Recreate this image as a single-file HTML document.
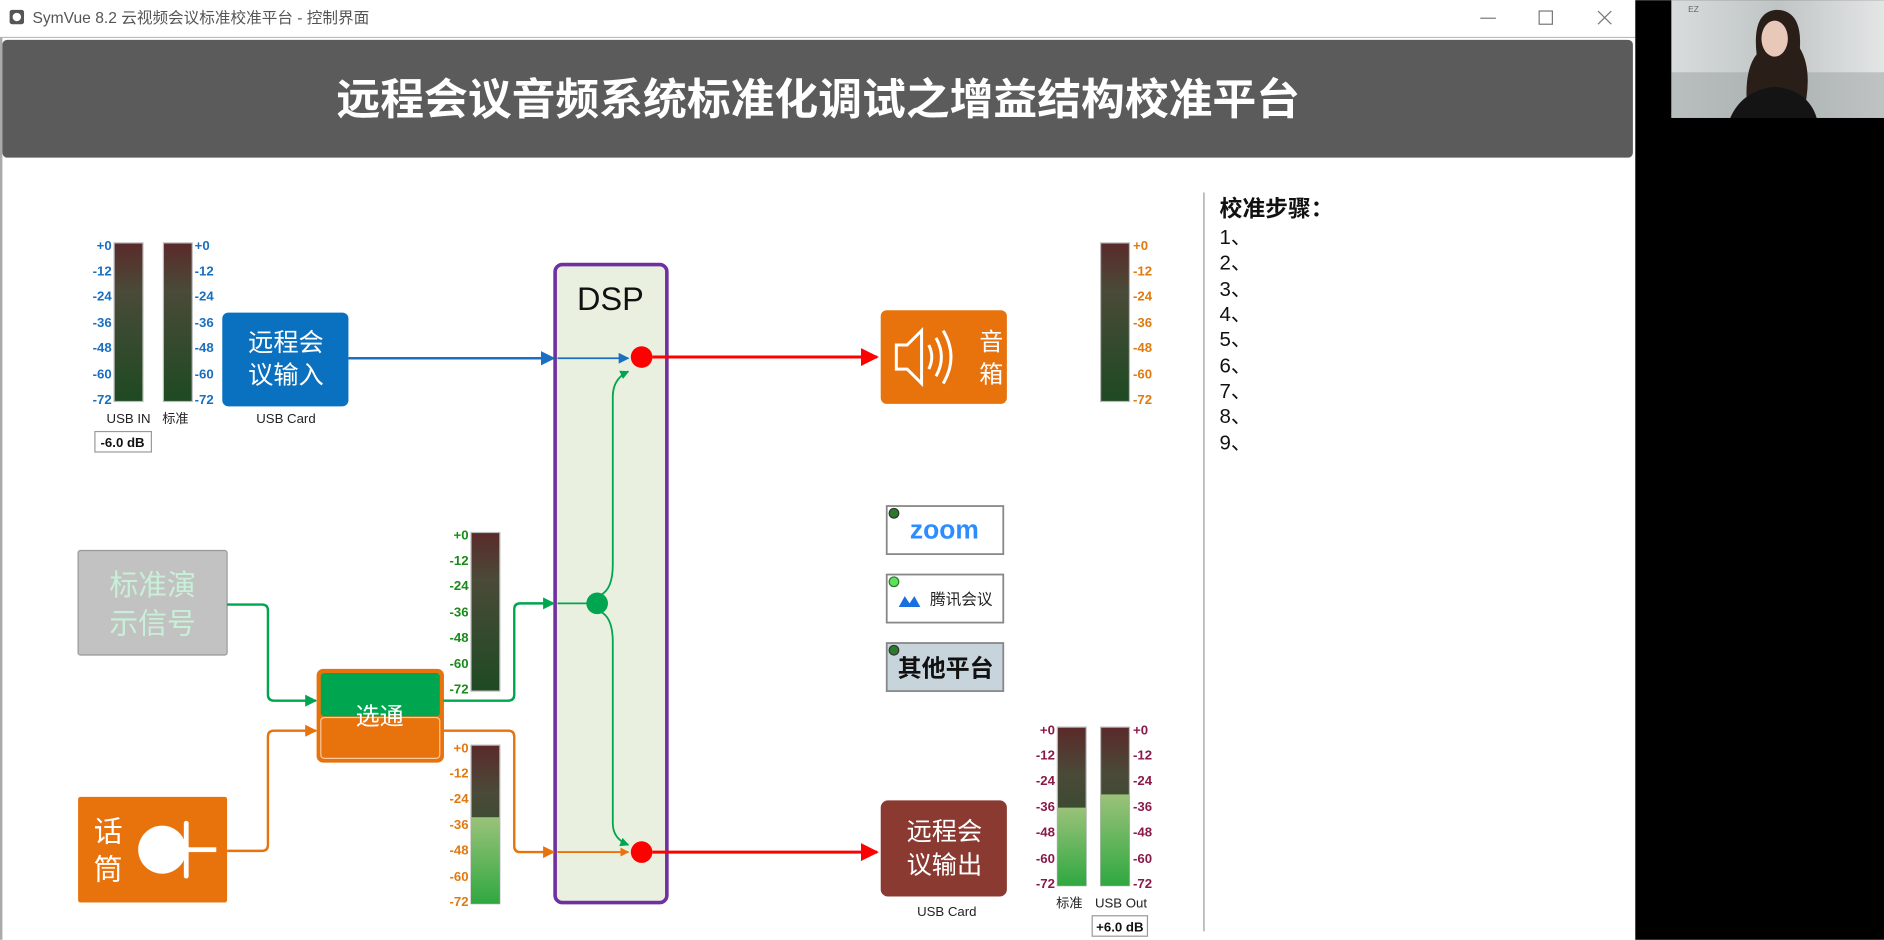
<!DOCTYPE html>
<html><head><meta charset="utf-8">
<style>
html,body{margin:0;padding:0;background:#fff;width:1884px;height:940px;overflow:hidden}
svg{display:block}
text{font-family:"Liberation Sans","Noto Sans CJK SC",sans-serif}
.ml{font-size:11px;font-weight:bold;font-family:"Liberation Sans",sans-serif}
</style></head><body>
<svg width="1884" height="940" viewBox="0 0 1568 782" xmlns="http://www.w3.org/2000/svg">
<defs>
<linearGradient id="mg" x1="0" y1="0" x2="0" y2="1">
<stop offset="0" stop-color="#5a2a2a"/><stop offset="0.3" stop-color="#4a4a38"/><stop offset="1" stop-color="#1e4a22"/></linearGradient>
<linearGradient id="lg" x1="0" y1="0" x2="0" y2="1">
<stop offset="0" stop-color="#9bc27a"/><stop offset="1" stop-color="#2fa840"/></linearGradient>
<linearGradient id="cam" x1="0" y1="0" x2="1" y2="0">
<stop offset="0" stop-color="#d8dcdc"/><stop offset="0.5" stop-color="#bfc4c4"/><stop offset="1" stop-color="#e4e6e6"/></linearGradient>
<marker id="ab" viewBox="0 0 10 10" refX="9" refY="5" markerWidth="6" markerHeight="6" orient="auto"><path d="M0,0L10,5L0,10z" fill="#1a6fc0"/></marker>
<marker id="ar" viewBox="0 0 10 10" refX="9" refY="5" markerWidth="6" markerHeight="6" orient="auto"><path d="M0,0L10,5L0,10z" fill="#f00"/></marker>
<marker id="ag" viewBox="0 0 10 10" refX="9" refY="5" markerWidth="5" markerHeight="5" orient="auto"><path d="M0,0L10,5L0,10z" fill="#00a550"/></marker>
<marker id="ao" viewBox="0 0 10 10" refX="9" refY="5" markerWidth="5" markerHeight="5" orient="auto"><path d="M0,0L10,5L0,10z" fill="#e8720c"/></marker>
</defs>
<rect width="1568" height="782" fill="#fff"/>
<rect x="8" y="8" width="12" height="12" rx="2" fill="#555"/><circle cx="14" cy="14" r="3.5" fill="#fff"/>
<text x="27" y="19" font-size="13" fill="#555">SymVue 8.2 云视频会议标准校准平台 - 控制界面</text>
<line x1="1232" y1="15" x2="1245" y2="15" stroke="#777" stroke-width="1"/>
<rect x="1281" y="9" width="11" height="11" fill="none" stroke="#777"/>
<path d="M1330 9L1341 20M1341 9L1330 20" stroke="#777"/>
<line x1="0" y1="31" x2="1361" y2="31" stroke="#bbb"/>
<rect x="0" y="31" width="2" height="751" fill="#aaa"/>
<rect x="2" y="33" width="1357" height="98" rx="4" fill="#5b5b5b"/>
<text x="681" y="95" font-size="36" font-weight="bold" fill="#fff" text-anchor="middle" textLength="802" lengthAdjust="spacingAndGlyphs">远程会议音频系统标准化调试之增益结构校准平台</text>
<rect x="1361" y="0" width="207" height="782" fill="#000"/>
<rect x="1391" y="0" width="177" height="98" fill="url(#cam)"/>
<rect x="1391" y="60" width="177" height="38" fill="#9aa0a0" opacity="0.5"/>
<path d="M1455 98 Q1450 60 1462 45 Q1458 10 1478 8 Q1500 8 1498 40 Q1510 60 1500 98 Z" fill="#2a1e18"/>
<ellipse cx="1477" cy="32" rx="11" ry="15" fill="#e8c8b8"/>
<path d="M1440 98 Q1450 75 1477 72 Q1505 75 1512 98Z" fill="#141414"/>
<text x="1405" y="10" font-size="7" fill="#666">EZ</text>

<rect x="95" y="202" width="24" height="132" fill="url(#mg)" stroke="#bbb"/>
<rect x="136" y="202" width="24" height="132" fill="url(#mg)" stroke="#bbb"/>
<g class="ml" fill="#1a6fc0" text-anchor="end">
<text x="93" y="208">+0</text><text x="93" y="229">-12</text><text x="93" y="250">-24</text><text x="93" y="272">-36</text><text x="93" y="293">-48</text><text x="93" y="315">-60</text><text x="93" y="336">-72</text></g>
<g class="ml" fill="#1a6fc0">
<text x="162" y="208">+0</text><text x="162" y="229">-12</text><text x="162" y="250">-24</text><text x="162" y="272">-36</text><text x="162" y="293">-48</text><text x="162" y="315">-60</text><text x="162" y="336">-72</text></g>
<text x="107" y="352" font-size="11" text-anchor="middle" fill="#222">USB IN</text>
<text x="146" y="352" font-size="11" text-anchor="middle" fill="#222">标准</text>
<rect x="79" y="359" width="47" height="17" fill="#fff" stroke="#999"/>
<text x="102" y="372" font-size="11" font-weight="bold" text-anchor="middle" fill="#111">-6.0 dB</text>

<rect x="185" y="260" width="105" height="78" rx="5" fill="#0a70c0"/>
<text x="238" y="292" font-size="21" fill="#fff" text-anchor="middle">远程会</text>
<text x="238" y="319" font-size="21" fill="#fff" text-anchor="middle">议输入</text>
<text x="238" y="352" font-size="11" text-anchor="middle" fill="#222">USB Card</text>

<rect x="462" y="220" width="93" height="531" rx="6" fill="#eaf0e0" stroke="#7030a0" stroke-width="3"/>
<text x="508" y="258" font-size="27" text-anchor="middle" fill="#111">DSP</text>

<line x1="290" y1="298" x2="461" y2="298" stroke="#1a6fc0" stroke-width="2" marker-end="url(#ab)"/>
<line x1="464" y1="298" x2="523" y2="298" stroke="#1a6fc0" stroke-width="1.5" marker-end="url(#ab)"/>
<line x1="543" y1="297" x2="730" y2="297" stroke="#f00" stroke-width="2.5" marker-end="url(#ar)"/>
<circle cx="534" cy="297" r="9" fill="#f00"/>

<rect x="733" y="258" width="105" height="78" rx="5" fill="#e8720c"/>
<path d="M746 287h9l12-12v44l-12-12h-9z" fill="none" stroke="#fff" stroke-width="2.5"/>
<path d="M773 287 q5 10 0 20 M779 281 q9 16 0 32 M785 275 q13 22 0 44" fill="none" stroke="#fff" stroke-width="2.5"/>
<text x="825" y="291" font-size="20" fill="#fff" text-anchor="middle">音</text>
<text x="825" y="318" font-size="20" fill="#fff" text-anchor="middle">箱</text>

<rect x="916" y="202" width="24" height="132" fill="url(#mg)" stroke="#bbb"/>
<g class="ml" fill="#e07a10">
<text x="943" y="208">+0</text><text x="943" y="229">-12</text><text x="943" y="250">-24</text><text x="943" y="272">-36</text><text x="943" y="293">-48</text><text x="943" y="315">-60</text><text x="943" y="336">-72</text></g>

<rect x="65" y="458" width="124" height="87" rx="2" fill="#c2c2c2" stroke="#999"/>
<text x="127" y="495" font-size="24" fill="#c8f0d8" text-anchor="middle">标准演</text>
<text x="127" y="527" font-size="24" fill="#c8f0d8" text-anchor="middle">示信号</text>
<rect x="65" y="663" width="124" height="88" rx="2" fill="#e8720c"/>
<text x="90" y="700" font-size="24" fill="#fff" text-anchor="middle">话</text>
<text x="90" y="732" font-size="24" fill="#fff" text-anchor="middle">筒</text>
<circle cx="135" cy="707" r="20" fill="#fff"/>
<rect x="153" y="683" width="4" height="48" rx="2" fill="#fff"/>
<rect x="155" y="705" width="25" height="4" fill="#fff"/>

<path d="M189 503H218Q223 503 223 508V578Q223 583 228 583H263" fill="none" stroke="#00a550" stroke-width="2" marker-end="url(#ag)"/>
<path d="M189 708H218Q223 708 223 703V613Q223 608 228 608H263" fill="none" stroke="#e8720c" stroke-width="2" marker-end="url(#ao)"/>

<rect x="264" y="557" width="105" height="77" rx="5" fill="#e8720c" stroke="#e8720c"/>
<rect x="267" y="560" width="99" height="36" rx="3" fill="#00a550"/>
<rect x="267" y="597" width="99" height="34" rx="3" fill="none" stroke="#f8c8a0" stroke-width="1"/>
<text x="316" y="603" font-size="20" fill="#fff" text-anchor="middle">选通</text>

<path d="M369 583H423Q428 583 428 578V507Q428 502 433 502H461" fill="none" stroke="#00a550" stroke-width="2" marker-end="url(#ag)"/>
<path d="M369 608H423Q428 608 428 613V704Q428 709 433 709H461" fill="none" stroke="#e8720c" stroke-width="2" marker-end="url(#ao)"/>
<line x1="464" y1="502" x2="490" y2="502" stroke="#00a550" stroke-width="1.5"/>
<line x1="464" y1="709" x2="523" y2="709" stroke="#e8720c" stroke-width="1.5" marker-end="url(#ao)"/>
<path d="M500 495Q510 490 510 470V330Q510 315 523 309" fill="none" stroke="#00a550" stroke-width="1.5" marker-end="url(#ag)"/>
<path d="M500 509Q510 514 510 534V685Q510 698 523 703" fill="none" stroke="#00a550" stroke-width="1.5" marker-end="url(#ag)"/>
<circle cx="497" cy="502" r="9" fill="#00a550"/>
<circle cx="534" cy="709" r="9" fill="#f00"/>
<line x1="543" y1="709" x2="730" y2="709" stroke="#f00" stroke-width="2.5" marker-end="url(#ar)"/>

<rect x="392" y="443" width="24" height="132" fill="url(#mg)" stroke="#bbb"/>
<g class="ml" fill="#1a8a1a" text-anchor="end">
<text x="390" y="449">+0</text><text x="390" y="470">-12</text><text x="390" y="491">-24</text><text x="390" y="513">-36</text><text x="390" y="534">-48</text><text x="390" y="556">-60</text><text x="390" y="577">-72</text></g>
<rect x="392" y="620" width="24" height="132" fill="url(#mg)" stroke="#bbb"/>
<rect x="392" y="680" width="24" height="72" fill="url(#lg)"/>
<g class="ml" fill="#e07a10" text-anchor="end">
<text x="390" y="626">+0</text><text x="390" y="647">-12</text><text x="390" y="668">-24</text><text x="390" y="690">-36</text><text x="390" y="711">-48</text><text x="390" y="733">-60</text><text x="390" y="754">-72</text></g>

<rect x="738" y="421" width="97" height="40" fill="#fff" stroke="#888" stroke-width="1.5"/>
<text x="786" y="448" font-size="22" font-weight="bold" fill="#2d8cff" text-anchor="middle" font-family="Liberation Sans,sans-serif">zoom</text>
<circle cx="744" cy="427" r="4" fill="#2a7a2a" stroke="#333"/>
<rect x="738" y="478" width="97" height="40" fill="#fff" stroke="#888" stroke-width="1.5"/>
<path d="M748 505l5-9 4 6 4-6 5 9z" fill="#1a6fe0"/>
<text x="800" y="503" font-size="13" fill="#222" text-anchor="middle">腾讯会议</text>
<circle cx="744" cy="484" r="4" fill="#5ee05e" stroke="#2a7a2a"/>
<rect x="738" y="535" width="97" height="40" fill="#c8d4dc" stroke="#888" stroke-width="1.5"/>
<text x="787" y="563" font-size="20" font-weight="bold" fill="#111" text-anchor="middle">其他平台</text>
<circle cx="744" cy="541" r="4" fill="#2a7a2a" stroke="#333"/>

<rect x="733" y="666" width="105" height="80" rx="6" fill="#8b3a32"/>
<text x="786" y="699" font-size="21" fill="#fff" text-anchor="middle">远程会</text>
<text x="786" y="727" font-size="21" fill="#fff" text-anchor="middle">议输出</text>
<text x="788" y="762" font-size="11" text-anchor="middle" fill="#222">USB Card</text>

<rect x="880" y="605" width="24" height="132" fill="url(#mg)" stroke="#bbb"/>
<rect x="880" y="672" width="24" height="65" fill="url(#lg)"/>
<rect x="916" y="605" width="24" height="132" fill="url(#mg)" stroke="#bbb"/>
<rect x="916" y="661" width="24" height="76" fill="url(#lg)"/>
<g class="ml" fill="#8b1a4a" text-anchor="end">
<text x="878" y="611">+0</text><text x="878" y="632">-12</text><text x="878" y="653">-24</text><text x="878" y="675">-36</text><text x="878" y="696">-48</text><text x="878" y="718">-60</text><text x="878" y="739">-72</text></g>
<g class="ml" fill="#8b1a4a">
<text x="943" y="611">+0</text><text x="943" y="632">-12</text><text x="943" y="653">-24</text><text x="943" y="675">-36</text><text x="943" y="696">-48</text><text x="943" y="718">-60</text><text x="943" y="739">-72</text></g>
<text x="890" y="755" font-size="11" text-anchor="middle" fill="#222">标准</text>
<text x="933" y="755" font-size="11" text-anchor="middle" fill="#222">USB Out</text>
<rect x="909" y="762" width="46" height="17" fill="#fff" stroke="#999"/>
<text x="932" y="775" font-size="11" font-weight="bold" text-anchor="middle" fill="#111">+6.0 dB</text>

<line x1="1002" y1="160" x2="1002" y2="775" stroke="#bbb" stroke-width="1.5"/>
<text x="1015" y="180" font-size="19" font-weight="bold" fill="#111">校准步骤：</text>
<g font-size="17" fill="#111">
<text x="1015" y="203">1、</text><text x="1015" y="224">2、</text><text x="1015" y="246">3、</text><text x="1015" y="267">4、</text><text x="1015" y="288">5、</text><text x="1015" y="310">6、</text><text x="1015" y="331">7、</text><text x="1015" y="352">8、</text><text x="1015" y="374">9、</text></g>
</svg>
</body></html>
